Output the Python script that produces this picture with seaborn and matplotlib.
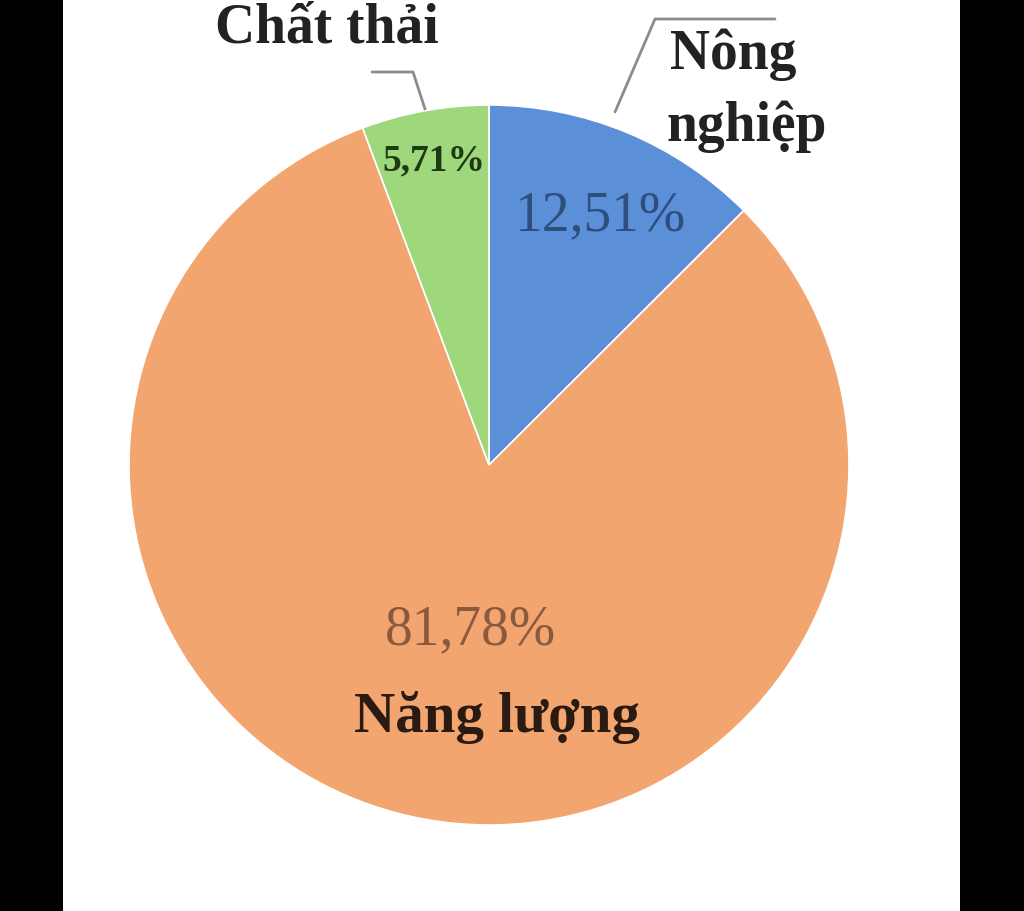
import matplotlib
matplotlib.use("Agg")
import matplotlib.pyplot as plt
import seaborn as sns
from matplotlib.patches import Rectangle

sns.set_theme(style="white")
plt.rcParams['font.family'] = ['Liberation Serif', 'DejaVu Serif']

# Data
categories = ["Nông nghiệp", "Năng lượng", "Chất thải"]
values = [12.51, 81.78, 5.71]
pct_labels = ["12,51%", "81,78%", "5,71%"]
colors = ["#5B8FD8", "#F3A56F", "#9FD77C"]

W, H = 1024, 912
fig = plt.figure(figsize=(W / 100, H / 100), dpi=100)
fig.patch.set_facecolor("white")
ax = fig.add_axes([0, 0, 1, 1])

# black side bands
ax.add_patch(Rectangle((0, 0), 63, H, facecolor="black", edgecolor="none", zorder=0))
ax.add_patch(Rectangle((960, 0), W - 960, H, facecolor="black", edgecolor="none", zorder=0))

cx, cy, r = 489, H - 466, 360
wedges, _ = ax.pie(values, colors=colors, startangle=90, counterclock=False,
                   center=(cx, cy), radius=r, frame=True,
                   wedgeprops=dict(edgecolor="white", linewidth=1.2))
ax.set_xlim(0, W)
ax.set_ylim(0, H)
ax.set_aspect("equal")
ax.axis("off")

def py(y):
    return H - y

# percentage labels
ax.text(600, py(216), pct_labels[0], ha="center", va="center", fontsize=40,
        color="#2E4E7E")
ax.text(470, py(630), pct_labels[1], ha="center", va="center", fontsize=40,
        color="#8A5A3E")
ax.text(434, py(161), pct_labels[2], ha="center", va="center", fontsize=27,
        fontweight="bold", color="#1E3A12")

# category labels
ax.text(497, py(718), categories[1], ha="center", va="center", fontsize=41,
        fontweight="bold", color="#2A1A12")
ax.text(327, py(28), categories[2], ha="center", va="center", fontsize=40,
        fontweight="bold", color="#222222")
ax.text(670, py(55), "Nông", ha="left", va="center", fontsize=40,
        fontweight="bold", color="#222222")
ax.text(666, py(127), "nghiệp", ha="left", va="center", fontsize=40,
        fontweight="bold", color="#222222")

# leader lines
ax.plot([372, 413, 425], [py(73), py(73), py(110)], color="#8C8C8C", lw=2)
ax.plot([615, 655, 775], [py(113), py(20), py(20)], color="#8C8C8C", lw=2)

fig.savefig("out.png", dpi=100, facecolor="white")
